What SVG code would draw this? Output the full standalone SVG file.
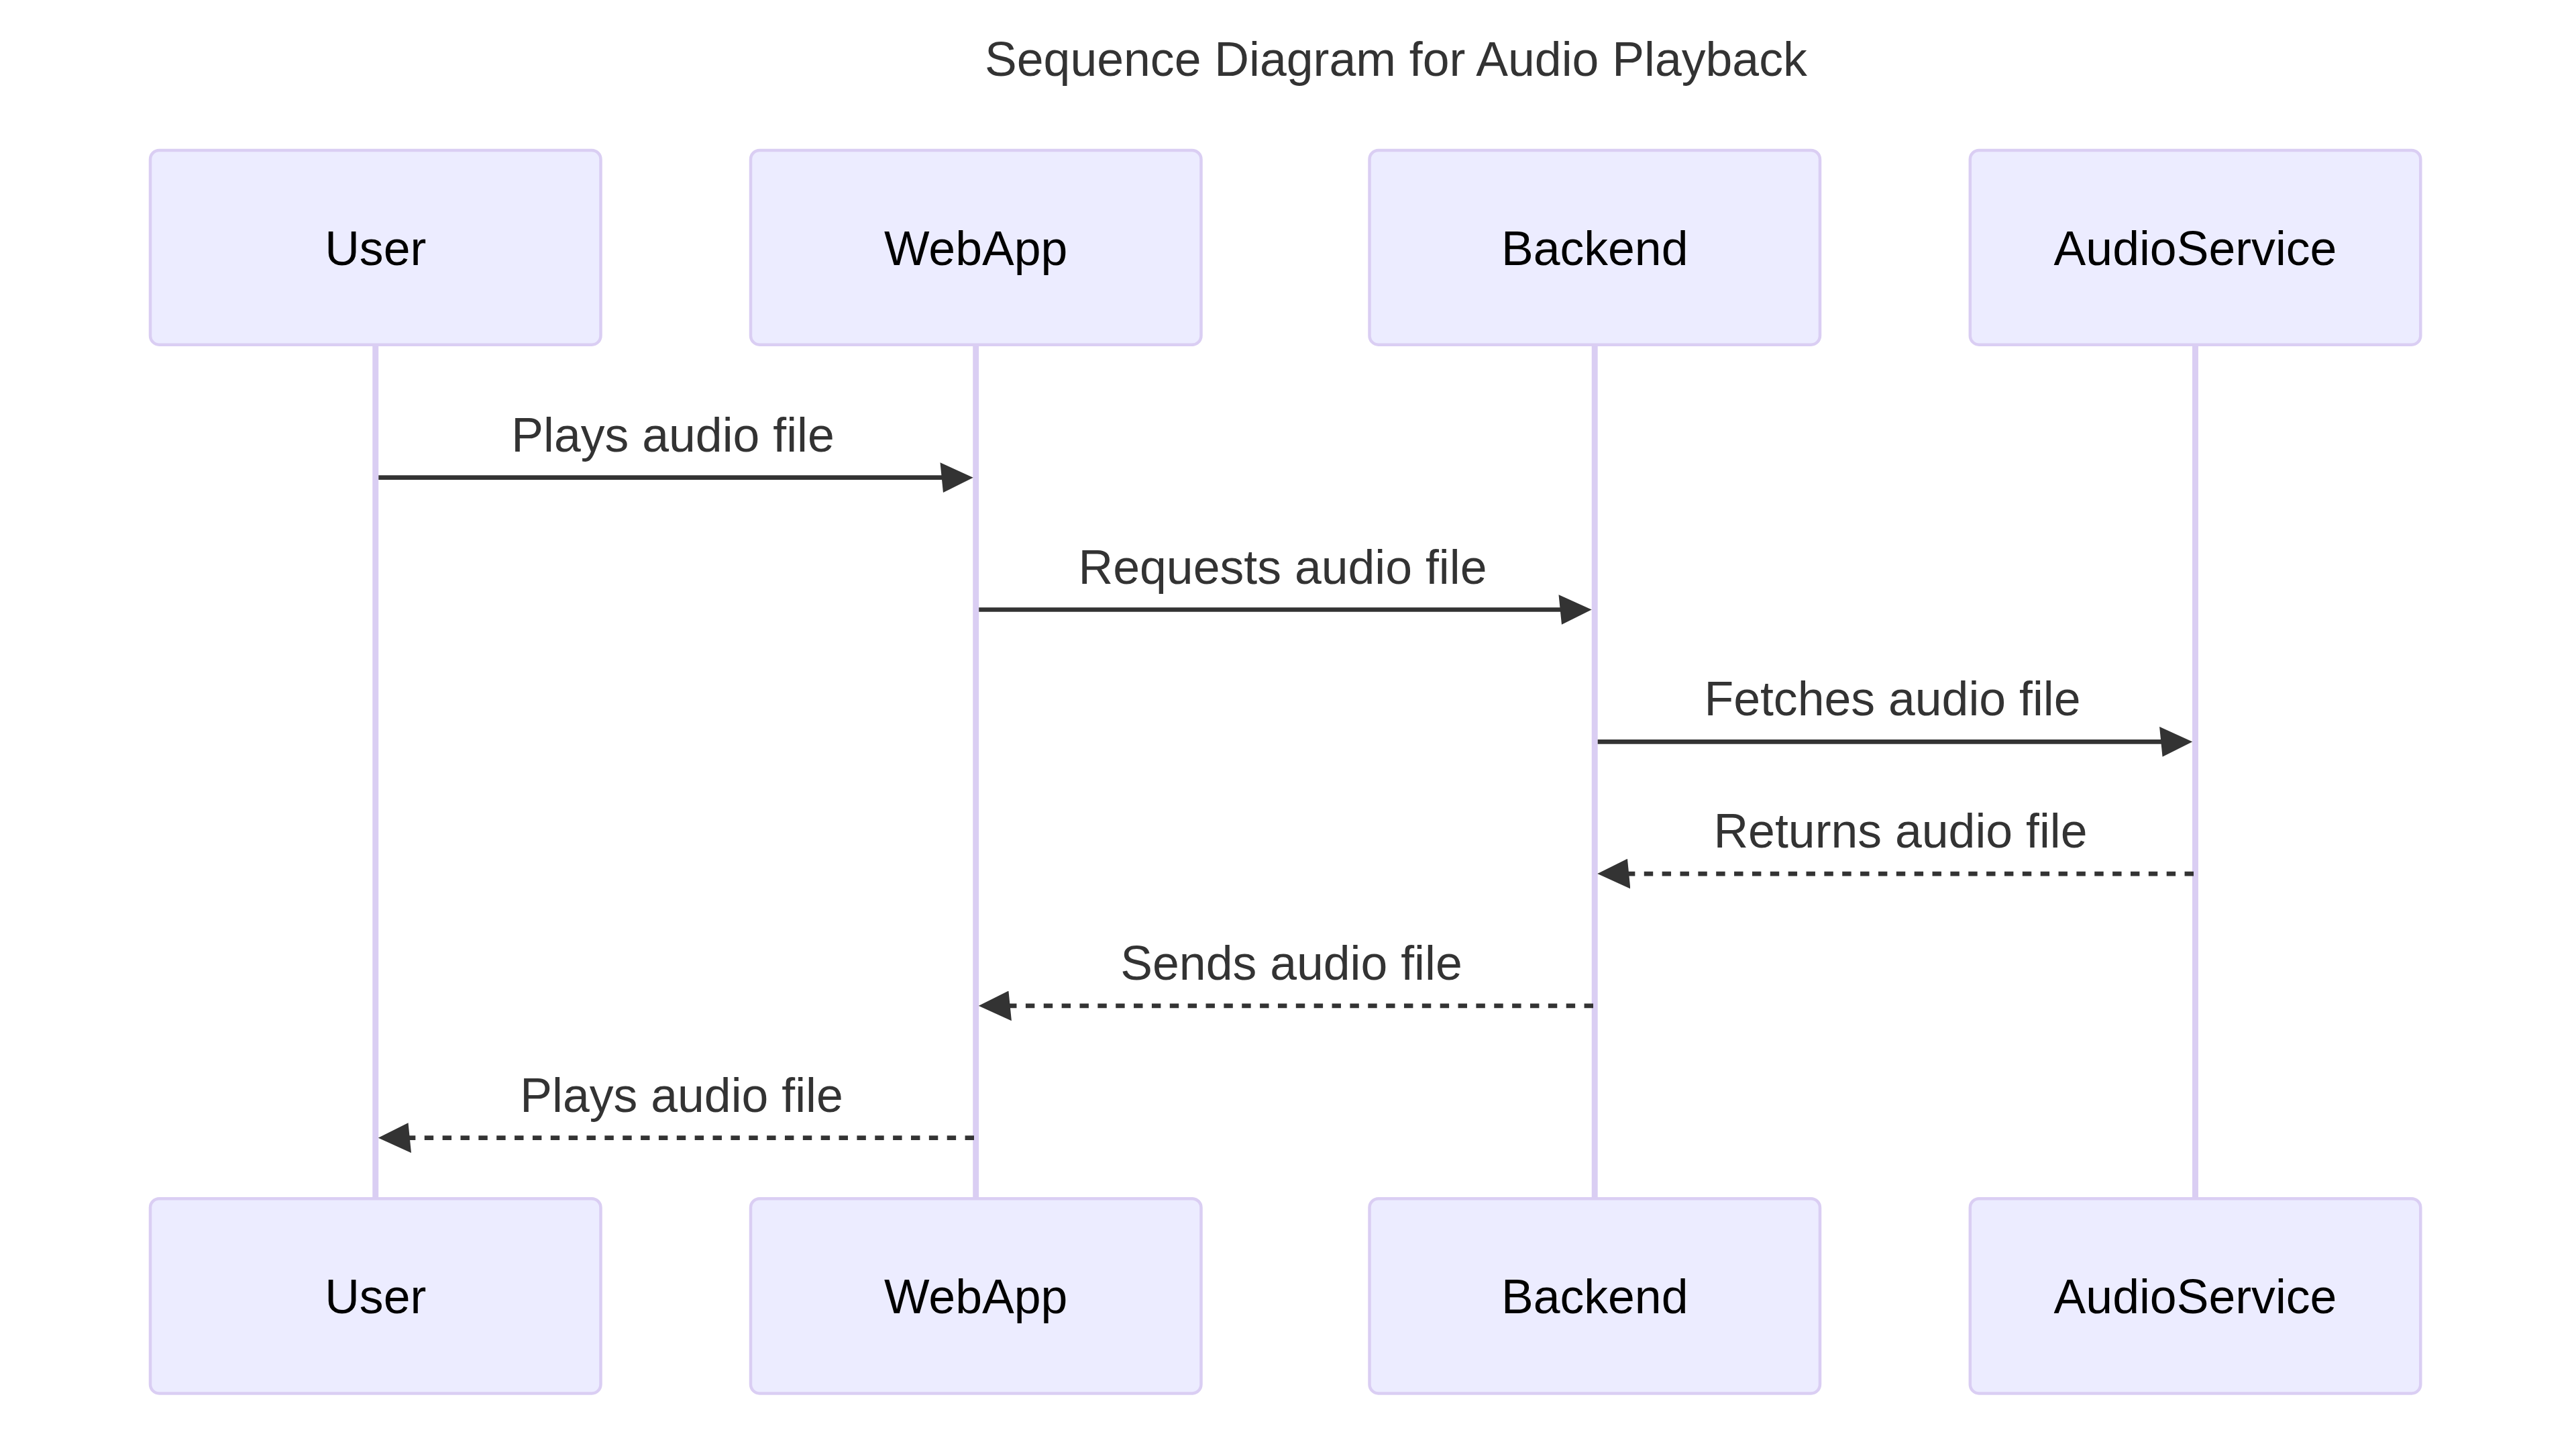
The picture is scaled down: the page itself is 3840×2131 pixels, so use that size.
<svg xmlns="http://www.w3.org/2000/svg" width="3840" height="2131" viewBox="0 0 3840 2131">
<style>
.actor{fill:#ECECFF;stroke:#DACEF3;stroke-width:4.48;}
.actorText{font-family:"Liberation Sans",Arial,sans-serif;font-size:71.6px;fill:#000;text-anchor:middle;}
.lifeline{stroke:#DACEF3;stroke-width:8.95;fill:none;}
.msg{stroke:#333;stroke-width:6.7;fill:none;}
.dotted{stroke-dasharray:13.43 13.43;}
.msgText{font-family:"Liberation Sans",Arial,sans-serif;font-size:71.6px;fill:#333;text-anchor:middle;}
.title{font-family:"Liberation Sans",Arial,sans-serif;font-size:71.6px;fill:#333;}
</style>
<defs>
<marker id="ah" viewBox="-1 0 11 10" refX="7.9" refY="5" markerWidth="49.2" markerHeight="44.8" markerUnits="userSpaceOnUse" orient="auto"><path d="M -1 0 L 10 5 L 0 10 z" fill="#333"/></marker>
</defs>
<rect width="3840" height="2131" fill="#fff"/>
<text class="title" x="1468" y="113">Sequence Diagram for Audio Playback</text>
<g id="lifelines">
<line class="lifeline" x1="559.75" y1="514" x2="559.75" y2="1786"/>
<line class="lifeline" x1="1454.7" y1="514" x2="1454.7" y2="1786"/>
<line class="lifeline" x1="2377.2" y1="514" x2="2377.2" y2="1786"/>
<line class="lifeline" x1="3272.5" y1="514" x2="3272.5" y2="1786"/>
</g>
<g id="actor-User-top"><rect class="actor" x="224" y="224" width="671.5" height="289.7" rx="13.4"/><text class="actorText" x="559.75" y="394.5">User</text></g>
<g id="actor-WebApp-top"><rect class="actor" x="1119" y="224" width="671.5" height="289.7" rx="13.4"/><text class="actorText" x="1454.7" y="394.5">WebApp</text></g>
<g id="actor-Backend-top"><rect class="actor" x="2041.5" y="224" width="671.5" height="289.7" rx="13.4"/><text class="actorText" x="2377.2" y="394.5">Backend</text></g>
<g id="actor-AudioService-top"><rect class="actor" x="2936.8" y="224" width="671.5" height="289.7" rx="13.4"/><text class="actorText" x="3272.5" y="394.5">AudioService</text></g>
<g id="actor-User-bottom"><rect class="actor" x="224" y="1786.2" width="671.5" height="290.2" rx="13.4"/><text class="actorText" x="559.75" y="1957">User</text></g>
<g id="actor-WebApp-bottom"><rect class="actor" x="1119" y="1786.2" width="671.5" height="290.2" rx="13.4"/><text class="actorText" x="1454.7" y="1957">WebApp</text></g>
<g id="actor-Backend-bottom"><rect class="actor" x="2041.5" y="1786.2" width="671.5" height="290.2" rx="13.4"/><text class="actorText" x="2377.2" y="1957">Backend</text></g>
<g id="actor-AudioService-bottom"><rect class="actor" x="2936.8" y="1786.2" width="671.5" height="290.2" rx="13.4"/><text class="actorText" x="3272.5" y="1957">AudioService</text></g>
<g id="connectors">
<text class="msgText" x="1003" y="672.7">Plays audio file</text>
<line class="msg" x1="564.3" y1="711.7" x2="1441.3" y2="711.7" marker-end="url(#ah)"/>
<text class="msgText" x="1912" y="869.5">Requests audio file</text>
<line class="msg" x1="1459.2" y1="908.5" x2="2363.3" y2="908.5" marker-end="url(#ah)"/>
<text class="msgText" x="2821" y="1066.3">Fetches audio file</text>
<line class="msg" x1="2381.7" y1="1105.3" x2="3258.9" y2="1105.3" marker-end="url(#ah)"/>
<text class="msgText" x="2833" y="1263.1">Returns audio file</text>
<line class="msg dotted" x1="3270" y1="1302.1" x2="2390.6" y2="1302.1" marker-end="url(#ah)"/>
<text class="msgText" x="1925" y="1459.9">Sends audio file</text>
<line class="msg dotted" x1="2375" y1="1498.9" x2="1468.1" y2="1498.9" marker-end="url(#ah)"/>
<text class="msgText" x="1016" y="1656.7">Plays audio file</text>
<line class="msg dotted" x1="1452" y1="1695.7" x2="573.2" y2="1695.7" marker-end="url(#ah)"/>
</g>
</svg>
